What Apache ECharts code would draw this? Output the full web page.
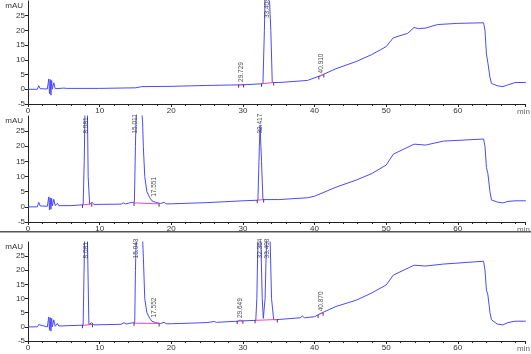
<!DOCTYPE html>
<html>
<head>
<meta charset="utf-8">
<script src="https://cdn.jsdelivr.net/npm/echarts@6/dist/echarts.min.js"></script>
<style>
  html, body { margin: 0; padding: 0; background: #fff; }
  #chart { width: 531px; height: 354px; }
</style>
</head>
<body>
<div id="chart"></div>
<script>
// retention time (min) vs absorbance (mAU)
// (off-scale peaks are given as 31, just above the axis top)
const traceA = [
  [0, 0], [1.3, 0], [1.5, 1.2], [1.7, 0.2], [2.7, 0.1], [2.9, 3.5], [3.0, -1.5], [3.1, 3.3],
  [3.2, -2], [3.3, 3], [3.4, 0], [3.6, 2.2], [3.8, 0.2], [5, 0.4], [5.2, 0.7], [5.4, 0.3],
  [10, 0.3], [15, 0.5], [15.9, 0.9], [16.1, 0.6], [20, 1.0], [25, 1.3], [29.5, 1.5],
  [29.7, 1.8], [29.9, 1.5], [32.8, 1.9], [33.0, 20], [33.1, 31], [33.7, 31], [33.9, 20],
  [34.1, 2.3], [35, 2.3], [39, 3.0], [40.9, 4.7], [43, 7], [45.9, 9.5], [48, 11.8],
  [50, 14.5], [51, 17.5], [53, 19], [53.9, 21], [54.5, 20.6], [55.5, 20.8], [57.2, 22],
  [60, 22.4], [63.6, 22.6], [63.8, 20], [64.0, 12], [64.2, 9], [64.5, 4], [64.7, 2],
  [65.5, 1.2], [66.3, 0.9], [67, 1.5], [68, 2.3], [69.5, 2.3]
];
const traceB = [
  [0, 0], [1.3, 0], [1.5, 1.5], [1.7, 0.3], [2.7, 0.2], [2.9, 3.3], [3.0, -1], [3.1, 3],
  [3.2, -0.8], [3.3, 2.8], [3.4, 0.3], [3.6, 2.5], [3.8, 0.4], [4.1, 1.2], [4.3, 0.4],
  [6, 0.4], [7.7, 0.7], [7.85, 15], [7.95, 31], [8.3, 31], [8.4, 10], [8.6, 1], [9.0, 1.5],
  [9.2, 0.8], [13, 0.9], [13.3, 1.3], [13.6, 1], [14, 1.2], [14.5, 1.5], [14.85, 1.5],
  [15.0, 20], [15.1, 31], [15.9, 31], [16.0, 28], [16.1, 20], [16.3, 10], [16.6, 5],
  [17, 3], [17.3, 2], [17.55, 2.6], [17.8, 1.5], [18.5, 1.1], [19, 1.5], [19.3, 1],
  [20, 1.0], [25, 1.4], [30, 2], [32.1, 2.2], [32.3, 20], [32.4, 27], [32.6, 15],
  [32.8, 2.4], [35, 2.4], [39, 3], [40, 3.5], [43, 6.5], [45.9, 8.9], [48, 11],
  [50, 13.8], [51, 17.4], [53.9, 20.7], [55.5, 20.4], [58, 21.7], [63.6, 22.4],
  [63.8, 20], [64.0, 13], [64.2, 11], [64.5, 5], [64.7, 2.3], [65.5, 1.6], [66.3, 1.3],
  [67, 1.8], [68, 2], [69.5, 2]
];
const traceC = [
  [0, 0], [1.3, 0], [1.5, 0.8], [1.7, 0.1], [2.7, 0], [2.9, 3.5], [3.0, -1.2], [3.1, 3.3],
  [3.2, -1.5], [3.3, 3], [3.4, 0], [3.6, 2.5], [3.8, 0.2], [4.1, 1.2], [4.3, 0.3],
  [7.7, 0.6], [7.9, 31], [8.3, 31], [8.5, 0.8], [8.9, 1.5], [9.2, 0.7], [13, 0.9],
  [13.4, 1.5], [13.7, 1], [14.5, 1.4], [14.9, 1.5], [15.0, 20], [15.1, 31], [16.0, 31],
  [16.1, 25], [16.3, 10], [16.6, 5], [17, 3], [17.3, 2], [17.55, 2.6], [17.8, 1.5],
  [18.5, 1.2], [19, 1.6], [19.3, 1.1], [20, 1.1], [25, 1.5], [26, 1.9], [26.3, 1.6],
  [29.3, 2], [29.6, 2.4], [29.9, 2.1], [31.8, 2.3], [31.95, 10], [32.1, 31], [32.5, 31],
  [32.7, 10], [32.85, 3], [33.1, 10], [33.3, 31], [33.8, 31], [34.0, 10], [34.3, 2.5],
  [36, 2.8], [38, 3.2], [38.3, 3.8], [38.6, 3.2], [40, 3.6], [40.9, 4.8], [43, 7.2],
  [45.9, 9.5], [48, 12], [50, 14.8], [51, 18.3], [53.9, 21.8], [55.5, 21.5], [58, 22.2],
  [63.6, 23.2], [63.8, 20], [64.0, 13], [64.2, 11.3], [64.5, 5], [64.7, 2.5], [65.5, 1],
  [66.3, 0.7], [67, 1.5], [68, 2], [69.5, 2]
];

// peak tables: [retention time, apex height]
const peaksA = [[29.729, 1.8], [33.408, 31], [40.910, 4.7]];
const peaksB = [[8.081, 31], [15.011, 31], [17.551, 2.6], [32.417, 27]];
const peaksC = [[8.081, 31], [15.043, 31], [17.552, 2.6], [29.649, 2.4],
                [32.364, 31], [33.408, 31], [40.870, 4.8]];

// integration baselines: [t0, y0, t1, y1]
const baseA = [[29.4, 1.5, 30.1, 1.6], [32.6, 1.9, 34.3, 2.3], [40.6, 4.3, 41.3, 5]];
const baseB = [[7.6, 0.6, 8.9, 1], [14.8, 1.3, 18.3, 1], [32.0, 2.2, 32.9, 2.4]];
const baseC = [[7.6, 0.5, 9.0, 0.9], [14.8, 1.3, 18.3, 1.2], [29.2, 2, 30, 2.1],
               [31.7, 2.3, 34.8, 2.6], [40.5, 4.2, 41.2, 5]];

const yTicks = { min: -5, max: 30, interval: 5 };
const xTicks = { min: 0, max: 69.4, interval: 10 };

const font = 'Liberation Sans, Arial, sans-serif';
const lineColor = '#4a4aff';

const panels = [
  { trace: traceA, peaks: peaksA, base: baseA, top: 1, height: 103 },
  { trace: traceB, peaks: peaksB, base: baseB, top: 116, height: 106 },
  { trace: traceC, peaks: peaksC, base: baseC, top: 242, height: 99 }
];

const grid = [], xAxis = [], yAxis = [], series = [];

panels.forEach((p, i) => {
  grid.push({ left: 28, right: 0, top: p.top, height: p.height });

  xAxis.push({
    type: 'value', gridIndex: i,
    min: xTicks.min, max: xTicks.max, interval: xTicks.interval,
    name: 'min', nameLocation: 'end', nameGap: -8,
    nameTextStyle: { fontFamily: font, fontSize: 8, color: '#666', align: 'left',
                     verticalAlign: 'top', padding: [4, 0, 0, 0] },
    axisLine: { onZero: false, lineStyle: { color: '#222', width: 1 } },
    axisTick: { length: 3, lineStyle: { color: '#222' } },
    minorTick: { show: true, splitNumber: 5, length: 2, lineStyle: { color: '#222' } },
    axisLabel: { fontFamily: font, fontSize: 8, color: '#333', margin: 3, showMaxLabel: false },
    splitLine: { show: false }
  });

  yAxis.push({
    type: 'value', gridIndex: i,
    min: yTicks.min, max: yTicks.max, interval: yTicks.interval,
    name: 'mAU', nameLocation: 'end', nameGap: -5,
    nameTextStyle: { fontFamily: font, fontSize: 8, color: '#333', align: 'right',
                     verticalAlign: 'middle', padding: [0, 5, 0, 0] },
    axisLine: { show: true, lineStyle: { color: '#222', width: 1 } },
    axisTick: { show: true, length: 3, lineStyle: { color: '#222' } },
    axisLabel: { fontFamily: font, fontSize: 8, color: '#333', margin: 3, showMaxLabel: false },
    splitLine: { show: false }
  });

  series.push({
    type: 'line', xAxisIndex: i, yAxisIndex: i,
    data: p.trace, symbol: 'none', clip: true, z: 2,
    lineStyle: { color: lineColor, width: 1 }
  });

  // integration baselines (pink), one series split by gaps
  series.push({
    type: 'line', xAxisIndex: i, yAxisIndex: i,
    data: p.base.flatMap(b => [[b[0], b[1]], [b[2], b[3]], '-']),
    symbol: 'none', silent: true, z: 3, connectNulls: false,
    lineStyle: { color: '#ff40c0', width: 1 }
  });

  // small black marks at baseline start/end
  series.push({
    type: 'scatter', xAxisIndex: i, yAxisIndex: i, z: 4, silent: true,
    symbol: 'rect', symbolSize: [1, 3],
    itemStyle: { color: '#111' },
    data: p.base.flatMap(b => [[b[0], b[1] - 0.5], [b[2], b[3] - 0.5]])
  });

  // rotated retention-time labels
  series.push({
    type: 'scatter', xAxisIndex: i, yAxisIndex: i, z: 5, silent: true,
    symbolSize: 0,
    data: p.peaks.map(pk => ({ value: [pk[0], Math.min(pk[1], 23.5) + 0.7], name: pk[0].toFixed(3) })),
    label: {
      show: true, position: 'inside', rotate: 90,
      align: 'left', verticalAlign: 'middle',
      formatter: d => d.name,
      fontFamily: font, fontSize: 6.5, color: '#222'
    }
  });
});

const chart = echarts.init(document.getElementById('chart'));
chart.setOption({
  animation: false,
  backgroundColor: '#fff',
  grid, xAxis, yAxis, series,
  graphic: [
    { type: 'rect', shape: { x: 0, y: 231, width: 531, height: 1.5 },
      style: { fill: '#555' }, silent: true }
  ]
});
</script>
</body>
</html>
